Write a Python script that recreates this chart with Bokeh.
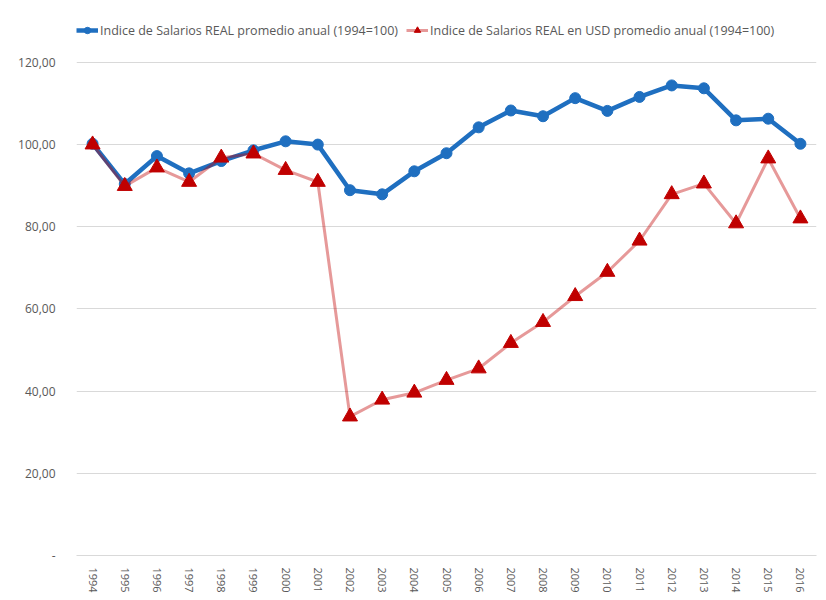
import math
from bokeh.plotting import figure
from bokeh.models import Legend, LegendItem, FixedTicker, Range1d
from bokeh.embed import file_html
from bokeh.resources import INLINE

years = list(range(1994, 2017))
real_index = [100.2, 90.4, 97.2, 93.0, 96.0, 98.6, 100.8, 100.0, 88.9, 87.9, 93.5, 97.9,
              104.2, 108.3, 106.9, 111.3, 108.2, 111.6, 114.4, 113.7, 105.9, 106.3, 100.2]
usd_index = [100.0, 89.9, 94.4, 90.9, 96.8, 97.8, 93.8, 90.9, 33.8, 37.9, 39.6, 42.7,
             45.5, 51.7, 56.8, 63.1, 69.0, 76.6, 87.9, 90.5, 80.8, 96.6, 82.0]
y_ticks = [0, 20, 40, 60, 80, 100, 120]
y_tick_labels = ["-", "20,00", "40,00", "60,00", "80,00", "100,00", "120,00"]
label_real = "Indice de Salarios REAL promedio anual (1994=100)"
label_usd = "Indice de Salarios REAL en USD promedio anual (1994=100)"

FONT = "Open Sans"
GRAY = "#595959"
BLUE = "#1F6FC0"
RED = "#C00000"

p = figure(frame_width=740, frame_height=535, output_backend="svg", toolbar_location=None,
           x_range=Range1d(1993.5, 2016.5), y_range=Range1d(0, 130.2),
           min_border_left=76, min_border_top=20, min_border_right=2, min_border_bottom=0)
p.outline_line_color = None
p.background_fill_color = "white"

p.xaxis.ticker = FixedTicker(ticks=years)
p.xaxis.major_label_overrides = {y: str(y) for y in years}
p.xaxis.major_label_orientation = "vertical"
p.xaxis.major_label_text_font = FONT
p.xaxis.major_label_text_font_size = "11px"
p.xaxis.major_label_text_color = GRAY
p.xaxis.axis_line_color = "#D9D9D9"
p.xaxis.major_tick_line_color = None
p.xaxis.minor_tick_line_color = None
p.xaxis.major_label_standoff = 6

p.yaxis.ticker = FixedTicker(ticks=y_ticks)
p.yaxis.major_label_overrides = dict(zip(y_ticks, y_tick_labels))
p.yaxis.major_label_text_font = FONT
p.yaxis.major_label_text_font_size = "12px"
p.yaxis.major_label_text_color = GRAY
p.yaxis.axis_line_color = None
p.yaxis.major_tick_line_color = None
p.yaxis.minor_tick_line_color = None
p.yaxis.major_label_standoff = 15

p.xgrid.grid_line_color = None
p.ygrid.grid_line_color = "#D9D9D9"
p.ygrid.grid_line_width = 1

l_real = p.line(years, real_index, line_color=BLUE, line_width=4.5)
s_real = p.scatter(years, real_index, marker="circle", size=11, fill_color=BLUE, line_color=BLUE)
l_usd = p.line(years, usd_index, line_color=RED, line_alpha=0.4, line_width=3)
s_usd = p.scatter(years, usd_index, marker="triangle", size=15, fill_color=RED, line_color=RED)

legend = Legend(items=[LegendItem(label=label_real, renderers=[l_real, s_real]),
                       LegendItem(label=label_usd, renderers=[l_usd, s_usd])],
                orientation="horizontal", location=(0, 516))
legend.label_text_font = FONT
legend.label_text_font_size = "12.5px"
legend.label_text_color = GRAY
legend.glyph_width = 22
legend.glyph_height = 16
legend.label_height = 18
legend.label_standoff = 2
legend.spacing = 8
legend.padding = 0
legend.margin = 0
legend.border_line_color = None
legend.background_fill_alpha = 0
p.add_layout(legend, "center")

open("out.html", "w").write(file_html(p, INLINE))
